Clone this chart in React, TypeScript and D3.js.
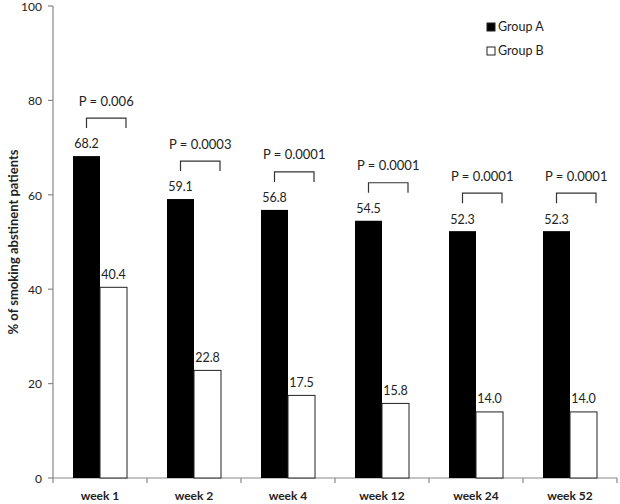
import React from "react";
import * as d3 from "d3";

const categories = ["week 1", "week 2", "week 4", "week 12", "week 24", "week 52"];
const groupA = [68.2, 59.1, 56.8, 54.5, 52.3, 52.3];
const groupB = [40.4, 22.8, 17.5, 15.8, 14.0, 14.0];
const pValues = ["P = 0.006", "P = 0.0003", "P = 0.0001", "P = 0.0001", "P = 0.0001", "P = 0.0001"];
const yTicks = [0, 20, 40, 60, 80, 100];
const seriesNames = ["Group A", "Group B"];

const W = 620;
const H = 504;
const FONT = "Lato, 'Open Sans', sans-serif";

export default function App() {
  const x = d3.scaleBand<string>().domain(categories).range([53, 617]);
  const y = d3.scaleLinear().domain([0, 100]).range([478, 6]);
  const bw = 27;
  const axisColor = "#888";

  return (
    <svg width={W} height={H} style={{ position: "absolute", left: 0, top: 0 }} fontFamily={FONT}>
      <rect width={W} height={H} fill="#fff" />
      {/* y axis */}
      <line x1={53} x2={53} y1={y(100)} y2={y(0)} stroke={axisColor} strokeWidth={1.2} />
      {yTicks.map((t) => (
        <g key={t}>
          <line x1={48} x2={53} y1={y(t)} y2={y(t)} stroke={axisColor} strokeWidth={1.2} />
          <text x={42} y={y(t) + 0.5} dy="0.35em" textAnchor="end" fontSize={12} fill="#222">
            {t}
          </text>
        </g>
      ))}
      <text
        transform={`translate(13,${(y(0) + y(100)) / 2}) rotate(-90)`}
        textAnchor="middle"
        dy="0.35em"
        fontSize={13}
        fontWeight="bold"
        fill="#222"
      >
        % of smoking abstinent patients
      </text>
      {/* x axis */}
      <line x1={53} x2={617} y1={y(0)} y2={y(0)} stroke={axisColor} strokeWidth={1.2} />
      {[...categories.map((c) => x(c)!), 617].map((px, i) => (
        <line key={i} x1={px} x2={px} y1={y(0)} y2={y(0) + 5} stroke={axisColor} strokeWidth={1.2} />
      ))}
      {categories.map((c) => (
        <text key={c} x={x(c)! + x.bandwidth() / 2} y={496} dy="0.35em" textAnchor="middle" fontSize={12} fontWeight="bold" fill="#222">
          {c}
        </text>
      ))}
      {/* bars */}
      {categories.map((c, i) => {
        const x0 = x(c)! + (x.bandwidth() - 2 * bw) / 2;
        const x1 = x0 + bw;
        const topA = y(groupA[i]);
        const topB = y(groupB[i]);
        const bl = x0 + bw / 2;
        const br = x1 + bw - 1;
        const bTop = topA - 38;
        return (
          <g key={c}>
            <rect x={x0} y={topA} width={bw} height={y(0) - topA} fill="#000" />
            <rect x={x1} y={topB} width={bw} height={y(0) - topB} fill="#fff" stroke="#222" strokeWidth={1} />
            <text x={x0 + bw / 2} y={topA - 12} dy="0.35em" textAnchor="middle" fontSize={12.5} fill="#222">
              {groupA[i].toFixed(1)}
            </text>
            <text x={x1 + bw / 2} y={topB - 13} dy="0.35em" textAnchor="middle" fontSize={12.5} fill="#222">
              {groupB[i].toFixed(1)}
            </text>
            <path
              d={`M${bl},${bTop + 10}V${bTop}H${br}V${bTop + 10}`}
              fill="none"
              stroke="#333"
              strokeWidth={1.2}
            />
            <text x={(bl + br) / 2} y={bTop - 17} dy="0.35em" textAnchor="middle" fontSize={13} fill="#222">
              {pValues[i]}
            </text>
          </g>
        );
      })}
      {/* legend */}
      {seriesNames.map((s, i) => (
        <g key={s} transform={`translate(487,${27 + i * 24})`}>
          <rect x={0} y={-4} width={8} height={8} fill={i === 0 ? "#000" : "#fff"} stroke="#222" strokeWidth={1} />
          <text x={11} y={0} dy="0.35em" fontSize={12.5} fill="#222">
            {s}
          </text>
        </g>
      ))}
    </svg>
  );
}
